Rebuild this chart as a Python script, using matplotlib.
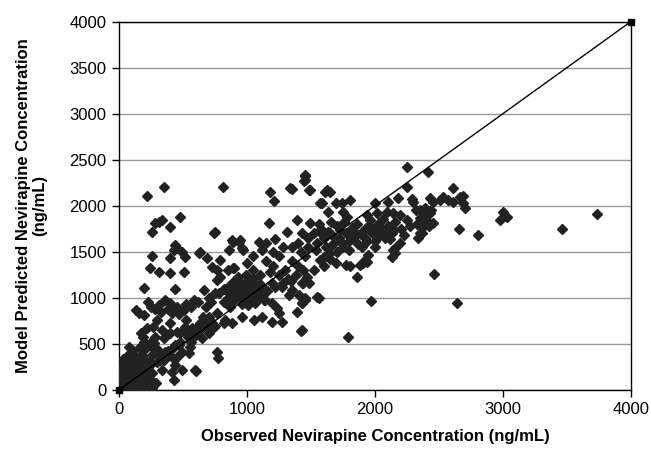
import matplotlib
matplotlib.use("Agg")
import matplotlib.pyplot as plt

plt.rcParams['font.family'] = ['Liberation Sans', 'DejaVu Sans']

# near the origin
obs0 = [0, 10, 25, 40, 55, 70, 85, 100, 115, 130, 20, 45, 60, 80, 95, 110, 130, 150, 165, 180,
        200, 210, 15, 35, 50, 75, 90, 120, 140, 160, 190, 220, 240, 30, 70, 115, 76, 49, 23, 206,
        258, 206, 193, 150, 260, 290, 120, 60, 5, 100, 154, 140, 230,
        30, 65, 90, 125, 170, 15, 55, 105, 145, 185, 40, 80, 60, 100, 10, 35, 170, 250, 300, 320]
pred0 = [0, 20, 5, 40, 15, 60, 30, 80, 20, 50, 90, 120, 160, 110, 190, 140, 200, 100, 60, 150,
         30, 90, 170, 230, 280, 240, 300, 260, 330, 280, 210, 170, 120, 340, 380, 380, 470, 326, 217, 326,
         184, 109, 36, 0, 20, 80, 0, 0, 60, 430, 452, 10, 250,
         60, 100, 150, 110, 220, 120, 200, 230, 160, 90, 250, 30, 70, 170, 250, 180, 40, 280, 300, 330]

# low observed, below ~1100 predicted
obs1 = [193, 440, 662, 133, 154, 193, 310, 398, 414, 505, 583, 516, 477, 570, 633, 700, 740, 779, 219, 284,
        193, 271, 284, 336, 414, 440, 492, 427, 596, 545, 466, 362, 437, 490, 451, 555, 412, 599, 763, 776,
        607, 685, 711, 659, 763, 529, 451, 398, 333, 242, 190, 268, 250, 280, 330, 380, 450, 520, 560, 620,
        680, 720, 230, 360, 470, 300, 350, 400, 600, 650, 700, 750, 560, 620, 680, 520, 300, 350, 240, 180,
        700, 750, 820, 380, 430, 480, 540, 590, 640, 260, 310, 210, 170]
pred1 = [1104, 1093, 1086, 869, 833, 814, 923, 945, 836, 869, 977, 687, 619, 673, 727, 796, 687, 1050, 670, 579,
         524, 507, 434, 217, 362, 271, 217, 109, 217, 398, 489, 416, 489, 416, 362, 470, 199, 210, 416, 344,
         687, 687, 760, 796, 832, 615, 633, 724, 651, 507, 579, 687, 900, 880, 850, 880, 900, 930, 900, 960,
         900, 960, 950, 980, 820, 760, 560, 620, 600, 560, 620, 700, 520, 640, 760, 760, 450, 330, 300, 380,
         1000, 1050, 1100, 420, 470, 520, 570, 600, 660, 380, 390, 460, 620]

# over-predicted, upper left
obs2 = [219, 349, 815, 310, 284, 336, 258, 401, 479, 740, 440, 453, 492, 518, 427, 258, 401, 622, 688, 727,
        766, 789, 245, 310, 401, 505, 633, 789, 763, 854, 893, 750, 891, 945, 971, 883, 937, 961, 859, 898]
pred2 = [2106, 2207, 2207, 1828, 1810, 1846, 1719, 1773, 1882, 1701, 1574, 1538, 1502, 1447, 1520, 1455, 1430, 1484, 1430, 1339,
         1303, 1230, 1321, 1285, 1267, 1285, 1502, 1412, 1194, 1303, 1321, 1719, 1610, 1629, 1520, 1630, 1607, 1540, 1520, 1325]

# middle
obs3 = [820, 850, 880, 900, 920, 940, 960, 980, 1000, 1020, 1040, 1060, 1080, 1100, 1120, 860, 900, 950, 1000, 1050,
        1090, 1130, 870, 960, 1010, 1060, 1140, 840, 930, 990, 1195, 1273, 1352, 1430, 1482, 1326, 1404, 1456, 1560, 1143,
        1195, 1234, 883, 961, 1052, 1117, 1195, 1273, 1248, 1391, 1430, 1422, 818, 831, 1440, 1466, 1440, 1544, 1453, 1427,
        1427, 1172, 1219, 1312, 1391, 1430, 1492, 1094, 1117, 1352, 1180, 1210, 1352, 1453, 1445, 1484, 1336, 1150, 1200, 1250,
        1300, 1350, 1400, 1450, 1050, 1100, 1180, 1250, 1320, 1380, 1420, 1480, 1280, 1200, 1050, 1000, 1150, 1400, 1480,
        890, 910, 970, 1030, 1070, 1110, 930, 990, 1040, 1090, 950, 1010, 1160, 1220, 1280, 1340]
pred3 = [950, 1000, 1050, 980, 1100, 1020, 1150, 960, 1050, 1120, 980, 1080, 1000, 1150, 1050, 1130, 1180, 1080, 1180, 1200,
         1100, 980, 900, 930, 920, 940, 1100, 1080, 1230, 1250, 1158, 1122, 1086, 1158, 1158, 1031, 1031, 977, 995, 977,
         941, 887, 724, 796, 760, 796, 742, 742, 833, 850, 941, 644, 724, 760, 1303, 1230, 1158, 1013, 995, 941,
         651, 1810, 1640, 1715, 1845, 1705, 1810, 1607, 1520, 1553, 2150, 2050, 2180, 2320, 2270, 2170, 2193, 1400, 1350, 1450,
         1300, 1400, 1350, 1450, 1300, 1250, 1280, 1250, 1200, 1250, 1500, 1550, 1550, 1500, 1450, 1380, 1600, 1600, 1650,
         1020, 1060, 1000, 1040, 1130, 1010, 1120, 1100, 1160, 1050, 1050, 1000, 1080, 1120, 1160, 1180]

# right, 1500-2300 observed
obs4 = [2253, 1453, 1453, 1492, 1622, 1648, 2248, 1610, 1570, 1583, 1695, 1740, 1805, 2000, 2104, 2182, 2287, 1635, 1752, 1779,
        1935, 2013, 2091, 2143, 2195, 1520, 1550, 1580, 1600, 1620, 1650, 1680, 1700, 1720, 1750, 1770, 1800, 1820, 1850, 1870,
        1900, 1920, 1950, 1980, 2000, 2020, 2050, 2080, 2100, 2130, 2160, 2200, 2230, 2250, 2270, 1560, 1660, 1760, 1860, 1960,
        2060, 1700, 1800, 1900, 1640, 1540, 2000, 1695, 1773, 1805, 1883, 1909, 1935, 1862, 1570, 1600, 1650, 1922, 1948, 2143,
        2156, 2156, 2195, 2130, 1969, 1786, 1520, 1600,
        1590, 1630, 1690, 1730, 1790, 1830, 1890, 1930, 1990, 2040, 2090, 2150, 1660, 1740, 1840, 1940, 2040, 2120]
pred4 = [2424, 2334, 2280, 2171, 2171, 2153, 2200, 2150, 2030, 2027, 2034, 2027, 2063, 2034, 2045, 2081, 2070, 1936, 1936, 1882,
         1900, 1918, 1936, 1918, 1900, 1700, 1600, 1750, 1650, 1550, 1700, 1600, 1780, 1650, 1550, 1700, 1620, 1760, 1680, 1580,
         1720, 1650, 1780, 1700, 1620, 1800, 1720, 1650, 1780, 1700, 1820, 1750, 1680, 1850, 1780, 1800, 1820, 1820, 1800, 1850,
         1860, 1500, 1520, 1550, 1480, 1520, 1550, 1375, 1357, 1346, 1357, 1375, 1393, 1230, 1412, 1440, 1420, 1412, 1466, 1520,
         1484, 1538, 1593, 1447, 966, 572, 1300, 1350,
         1680, 1720, 1650, 1740, 1690, 1640, 1690, 1760, 1750, 1680, 1720, 1740, 1560, 1600, 1700, 1620, 1770, 1640]

# far right
obs5 = [2417, 2612, 2300, 2430, 2456, 2508, 2534, 2573, 2612, 2664, 2690, 2703, 2690, 2352, 2391, 2430, 2365, 2456, 2378, 2352,
        2339, 2404, 2352, 2400, 2420, 2370, 2440, 2659, 2802, 3003, 2977, 3029, 3463, 3732, 2463, 2638, 2320, 2330]
pred5 = [2370, 2190, 2045, 2081, 2045, 2063, 2099, 2063, 2045, 2099, 2027, 1973, 2106, 1954, 1973, 1918, 1864, 1810, 1773, 1701,
         1647, 1918, 1864, 1850, 1780, 1700, 1950, 1748, 1683, 1936, 1846, 1882, 1745, 1914, 1256, 941, 1950, 1800]

identity = [0, 4000]

fig = plt.figure(figsize=(6.51, 4.51), dpi=100)
ax = fig.add_axes([119 / 651, 61 / 451, 512 / 651, 368.5 / 451])

for ox, py in [(obs0, pred0), (obs1, pred1), (obs2, pred2), (obs3, pred3), (obs4, pred4), (obs5, pred5)]:
    ax.plot(ox, py, linestyle='none', marker='D', markersize=5, color='#222222', zorder=3)

ax.plot(identity, identity, color='black', lw=1, marker='s', markersize=4, zorder=4, clip_on=False)

ax.set_xlim(0, 4000)
ax.set_ylim(0, 4000)
ax.set_xticks(range(0, 4001, 1000))
ax.set_yticks(range(0, 4001, 500))
ax.yaxis.grid(True, color='#999999', lw=1)
ax.set_axisbelow(True)
for s in ax.spines.values():
    s.set_color('black')
    s.set_linewidth(1)
ax.tick_params(axis='both', labelsize=12, direction='out', length=5, width=1, color='black', pad=4)

ax.set_xlabel('Observed Nevirapine Concentration (ng/mL)', fontsize=12, fontweight='bold')
ax.xaxis.set_label_coords(0.5, -0.105)
ax.set_ylabel('Model Predicted Nevirapine Concentration\n(ng/mL)', fontsize=12, fontweight='bold',
              linespacing=1.15)
ax.yaxis.set_label_coords(-0.14, 0.5)

fig.savefig('out.png', dpi=100)
